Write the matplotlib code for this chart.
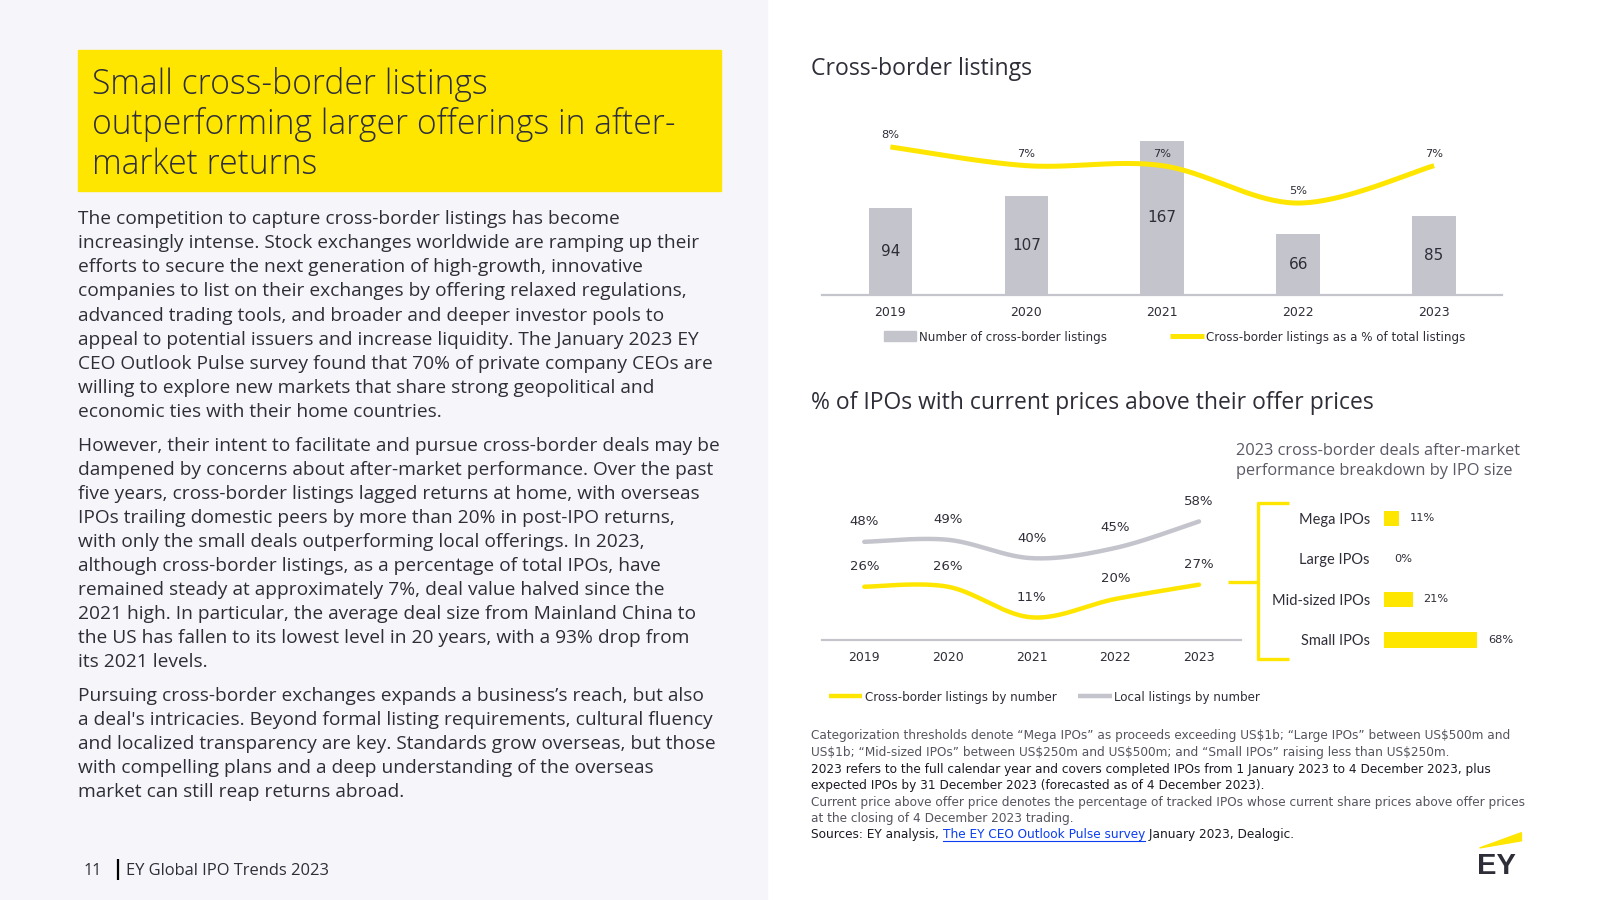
import numpy as np
import matplotlib.pyplot as plt
from matplotlib.patches import Rectangle, Polygon
from matplotlib.lines import Line2D

# data
years = ['2019', '2020', '2021', '2022', '2023']
cb_listings = [94, 107, 167, 66, 85]
cb_share_pct = [8, 7, 7, 5, 7]
cb_above_offer = [26, 26, 11, 20, 27]
local_above_offer = [48, 49, 40, 45, 58]
size_labels = ['Mega IPOs', 'Large IPOs', 'Mid-sized IPOs', 'Small IPOs']
size_above_offer = [11, 0, 21, 68]

YELLOW = '#ffe600'
GREY = '#c4c4cd'
DARK = '#2e2e38'
PANEL = '#f6f6fa'
BODY_FONT = ['Open Sans', 'DejaVu Sans']
LABEL_FONT = ['Lato', 'DejaVu Sans']
CHART_FONT = ['DejaVu Sans']

plt.rcParams['font.family'] = BODY_FONT
plt.rcParams['text.parse_math'] = False

# layout is worked out in slide pixels (1568 x 882), then scaled to the figure
W, H = 1568, 882


def fx(x):
    return x / W


def fy(y):
    return 1 - y / H


def box(l, t, r, b):
    return [fx(l), fy(b), (r - l) / W, (b - t) / H]


def put(x, y, s, size, color=DARK, ha='left', va='center', **kw):
    # +2px: 'center' includes descenders, so nudge down to match the slide
    return fig.text(fx(x), fy(y + 2), s, fontsize=size, color=color, ha=ha, va=va, **kw)


def hline(x0, x1, y0, y1, color, lw):
    fig.add_artist(Line2D([fx(x0), fx(x1)], [fy(y0), fy(y1)], color=color, lw=lw,
                          solid_capstyle='butt'))


def smooth(xs, ys, n=40):
    # catmull-rom curve through the points (like excel's "smoothed line")
    xs = np.asarray(xs, float)
    ys = np.asarray(ys, float)
    px = np.r_[xs[0], xs, xs[-1]]
    py = np.r_[ys[0], ys, ys[-1]]
    t = np.linspace(0, 1, n)
    h00 = 2 * t**3 - 3 * t**2 + 1
    h10 = t**3 - 2 * t**2 + t
    h01 = -2 * t**3 + 3 * t**2
    h11 = t**3 - t**2
    ox, oy = [], []
    for i in range(1, len(xs)):
        mx0 = (px[i + 1] - px[i - 1]) / 2
        mx1 = (px[i + 2] - px[i]) / 2
        my0 = (py[i + 1] - py[i - 1]) / 2
        my1 = (py[i + 2] - py[i]) / 2
        ox.append(h00 * px[i] + h10 * mx0 + h01 * px[i + 1] + h11 * mx1)
        oy.append(h00 * py[i] + h10 * my0 + h01 * py[i + 1] + h11 * my1)
    return np.concatenate(ox), np.concatenate(oy)


fig = plt.figure(figsize=(16, 9), dpi=100)
fig.patch.set_facecolor('white')

# left panel + title box
fig.add_artist(Rectangle((0, 0), fx(752), 1, color=PANEL, transform=fig.transFigure, zorder=0))
fig.add_artist(Rectangle((fx(76), fy(187)), fx(707) - fx(76), fy(49) - fy(187), color=YELLOW,
                         transform=fig.transFigure, zorder=1))

title_lines = ['Small cross-border listings',
               'outperforming larger offerings in after-',
               'market returns']
for k, s in enumerate(title_lines):
    put(90, 81 + 39 * k, s, 24.2, weight='light', zorder=2)

para1 = ['The competition to capture cross-border listings has become',
         'increasingly intense. Stock exchanges worldwide are ramping up their',
         'efforts to secure the next generation of high-growth, innovative',
         'companies to list on their exchanges by offering relaxed regulations,',
         'advanced trading tools, and broader and deeper investor pools to',
         'appeal to potential issuers and increase liquidity. The January 2023 EY',
         'CEO Outlook Pulse survey found that 70% of private company CEOs are',
         'willing to explore new markets that share strong geopolitical and',
         'economic ties with their home countries.']
para2 = ['However, their intent to facilitate and pursue cross-border deals may be',
         'dampened by concerns about after-market performance. Over the past',
         'five years, cross-border listings lagged returns at home, with overseas',
         'IPOs trailing domestic peers by more than 20% in post-IPO returns,',
         'with only the small deals outperforming local offerings. In 2023,',
         'although cross-border listings, as a percentage of total IPOs, have',
         'remained steady at approximately 7%, deal value halved since the',
         '2021 high. In particular, the average deal size from Mainland China to',
         'the US has fallen to its lowest level in 20 years, with a 93% drop from',
         'its 2021 levels.']
para3 = ['Pursuing cross-border exchanges expands a business\u2019s reach, but also',
         "a deal's intricacies. Beyond formal listing requirements, cultural fluency",
         'and localized transparency are key. Standards grow overseas, but those',
         'with compelling plans and a deep understanding of the overseas',
         'market can still reap returns abroad.']
for start, lines in [(213, para1), (435, para2), (680, para3)]:
    for k, s in enumerate(lines):
        put(76, start + 23.55 * k, s, 13.8)

# footer
put(82, 852, '11', 11.5)
hline(116, 116, 842, 862, 'black', 1.6)
put(123, 852, 'EY Global IPO Trends 2023', 11.9)

# ---- chart 1: cross-border listings ----
put(795, 66, 'Cross-border listings', 16.6)

ax1 = fig.add_axes(box(806, 120, 1472, 289))
x = np.arange(len(years))
ax1.bar(x, cb_listings, width=0.32, color=GREY, zorder=1)
for i, v in enumerate(cb_listings):
    ax1.text(i, v / 2, str(v), ha='center', va='center', fontsize=11, color=DARK,
             family=CHART_FONT)
ax1.set_xlim(-0.5, 4.5)
ax1.set_ylim(0, 186.7)
ax1.set_xticks(x, years, family=CHART_FONT, fontsize=9, color=DARK)
ax1.tick_params(axis='x', length=0, pad=8)
ax1.set_yticks([])
for sp in ['top', 'left', 'right']:
    ax1.spines[sp].set_visible(False)
ax1.spines['bottom'].set_color(GREY)
ax1.spines['bottom'].set_linewidth(1.6)
ax1.patch.set_alpha(0)

ax1b = ax1.twinx()
sx, sy = smooth(x, cb_share_pct)
ax1b.plot(sx, sy, color=YELLOW, lw=3.6, solid_capstyle='butt', zorder=3)
for i, v in enumerate(cb_share_pct):
    ax1b.annotate(f'{v}%', (i, v), xytext=(0, 12), textcoords='offset pixels',
                  ha='center', va='center', fontsize=8.2, color=DARK, family=CHART_FONT)
ax1b.set_ylim(0.09, 9.31)
ax1b.set_xlim(-0.5, 4.5)
ax1b.axis('off')

# legend 1
fig.add_artist(Rectangle((fx(866), fy(334)), fx(898) - fx(866), fy(324) - fy(334), color=GREY,
                         transform=fig.transFigure))
put(901, 329, 'Number of cross-border listings', 8.6, family=CHART_FONT)
hline(1147, 1180, 329, 329, YELLOW, 3.6)
put(1182, 329, 'Cross-border listings as a % of total listings', 8.6, family=CHART_FONT)

# ---- chart 2: % of IPOs above offer price ----
put(795, 393, '% of IPOs with current prices above their offer prices', 16.5)

ax2 = fig.add_axes(box(806, 480, 1216, 627))
gx, gy = smooth(x, local_above_offer)
ax2.plot(gx, gy, color=GREY, lw=3.2, solid_capstyle='round')
yx, yy = smooth(x, cb_above_offer)
ax2.plot(yx, yy, color=YELLOW, lw=3.2, solid_capstyle='round')
for series in [local_above_offer, cb_above_offer]:
    for i, v in enumerate(series):
        ax2.annotate(f'{v}%', (i, v), xytext=(0, 20), textcoords='offset pixels',
                     ha='center', va='center', fontsize=9.5, color=DARK, family=CHART_FONT)
ax2.set_xlim(-0.5, 4.5)
ax2.set_ylim(0, 73.5)
ax2.set_xticks(x, years, family=CHART_FONT, fontsize=9, color=DARK)
ax2.tick_params(axis='x', length=0, pad=8)
ax2.set_yticks([])
for sp in ['top', 'left', 'right']:
    ax2.spines[sp].set_visible(False)
ax2.spines['bottom'].set_color(GREY)
ax2.spines['bottom'].set_linewidth(1.6)
ax2.patch.set_alpha(0)

# legend 2
hline(812, 845, 682, 682, YELLOW, 3.2)
put(848, 682, 'Cross-border listings by number', 8.6, family=CHART_FONT)
hline(1056, 1090, 682, 682, GREY, 3.2)
put(1092, 682, 'Local listings by number', 8.6, family=CHART_FONT)

# bracket linking 2023 to the size breakdown
hline(1203, 1234, 570, 570, YELLOW, 2.4)
hline(1233, 1233, 492, 647, YELLOW, 2.4)
hline(1232, 1263, 493, 493, YELLOW, 2.4)
hline(1232, 1263, 646, 646, YELLOW, 2.4)

put(1211, 440, '2023 cross-border deals after-market', 11.8, color='#5a5a66')
put(1211, 460, 'performance breakdown by IPO size', 11.8, color='#5a5a66')

ax3 = fig.add_axes(box(1356, 488, 1491, 647))
yi = np.arange(len(size_labels))
ax3.barh(yi, size_above_offer, height=0.38, color=YELLOW)
for i, v in enumerate(size_above_offer):
    ax3.text(v + 8, i, f'{v}%', ha='left', va='center', fontsize=8.2, color=DARK,
             family=CHART_FONT)
ax3.set_xlim(0, 100)
ax3.set_ylim(3.5, -0.5)
ax3.set_yticks(yi, size_labels, fontsize=10.5, color=DARK, family=LABEL_FONT)
ax3.tick_params(axis='y', length=0, pad=10)
ax3.set_xticks([])
for sp in ax3.spines.values():
    sp.set_visible(False)
ax3.patch.set_alpha(0)

# footnotes
NOTE_GREY = '#55555f'
NOTE_DARK = '#1a1a24'
NOTE_SIZE = 8.7
notes = [('Categorization thresholds denote \u201cMega IPOs\u201d as proceeds exceeding US$1b; \u201cLarge IPOs\u201d between US$500m and', NOTE_GREY),
         ('US$1b; \u201cMid-sized IPOs\u201d between US$250m and US$500m; and \u201cSmall IPOs\u201d raising less than US$250m.', NOTE_GREY),
         ('2023 refers to the full calendar year and covers completed IPOs from 1 January 2023 to 4 December 2023, plus', NOTE_DARK),
         ('expected IPOs by 31 December 2023 (forecasted as of 4 December 2023).', NOTE_DARK),
         ('Current price above offer price denotes the percentage of tracked IPOs whose current share prices above offer prices', NOTE_GREY),
         ('at the closing of 4 December 2023 trading.', NOTE_GREY)]
note_y = [719, 735, 752, 768, 784, 800]
for (s, c), yy_ in zip(notes, note_y):
    put(795, yy_, s, NOTE_SIZE, color=c, family=CHART_FONT)

r = fig.canvas.get_renderer()
t1 = put(795, 816, 'Sources: EY analysis, ', NOTE_SIZE, color=NOTE_DARK, family=CHART_FONT)
e1 = t1.get_window_extent(r)
fw, fh = fig.bbox.width, fig.bbox.height
t2 = fig.text(e1.x1 / fw, fy(818), 'The EY CEO Outlook Pulse survey', fontsize=NOTE_SIZE,
              color='#0b3ef0', ha='left', va='center', family=CHART_FONT)
e2 = t2.get_window_extent(r)
fig.add_artist(Line2D([e2.x0 / fw, e2.x1 / fw], [e2.y0 / fh + 0.0005] * 2, color='#0b3ef0', lw=0.8))
fig.text(e2.x1 / fw, fy(818), ' January 2023, Dealogic.', fontsize=NOTE_SIZE, color=NOTE_DARK,
         ha='left', va='center', family=CHART_FONT)

# EY logo
fig.add_artist(Polygon([(fx(1450), fy(831)), (fx(1491), fy(816)), (fx(1491), fy(824))],
                       closed=True, color=YELLOW, transform=fig.transFigure))
put(1447, 847, 'EY', 21, weight='bold', family=['Liberation Sans', 'DejaVu Sans'])

fig.savefig('out.png', dpi=100)
